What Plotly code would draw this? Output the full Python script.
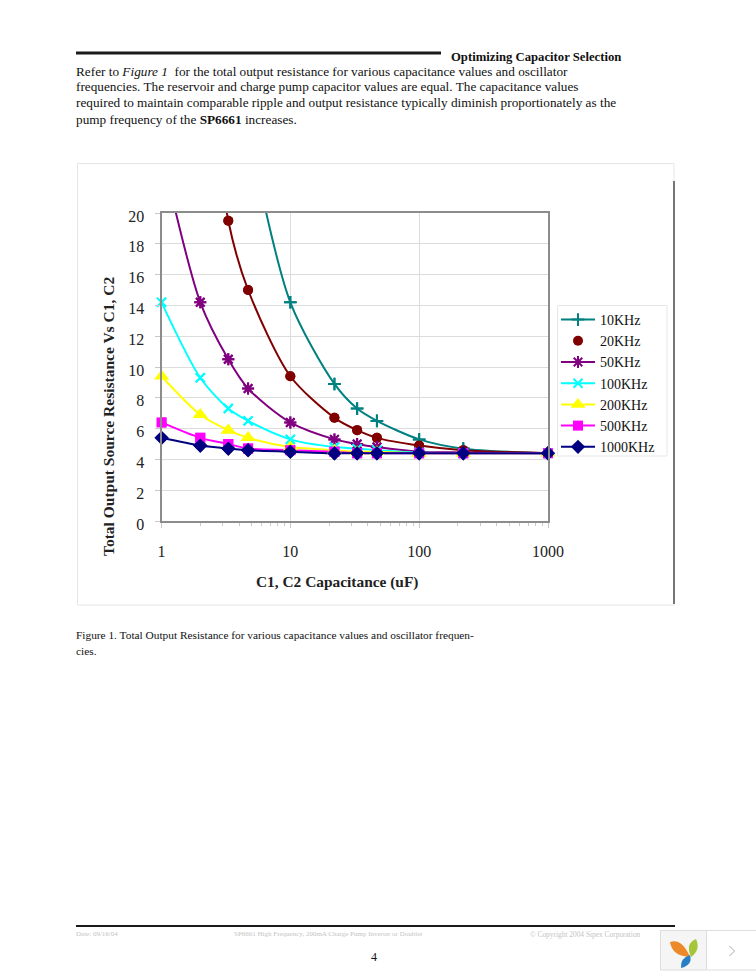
import plotly.graph_objects as go

W, H = 756, 972

capacitance_uF = [1, 2, 3.3, 4.7, 10, 22, 33, 47, 100, 220, 1000]
r_10khz = [None, None, None, 25.5, 14.2, 8.9, 7.3, 6.5, 5.3, 4.7, 4.4]
r_20khz = [None, 34.0, 19.5, 15.0, 9.4, 6.7, 5.9, 5.4, 4.9, 4.6, 4.4]
r_50khz = [24.0, 14.2, 10.5, 8.6, 6.4, 5.3, 5.0, 4.8, 4.5, 4.45, 4.4]
r_100khz = [14.2, 9.3, 7.3, 6.5, 5.3, 4.8, 4.7, 4.6, 4.45, 4.4, 4.4]
r_200khz = [9.4, 6.9, 5.9, 5.4, 4.8, 4.6, 4.5, 4.5, 4.4, 4.4, 4.4]
r_500khz = [6.4, 5.4, 5.0, 4.7, 4.6, 4.5, 4.4, 4.4, 4.4, 4.4, 4.4]
r_1000khz = [5.4, 4.9, 4.7, 4.6, 4.5, 4.4, 4.4, 4.4, 4.4, 4.4, 4.4]

series_names = ["10KHz", "20KHz", "50KHz", "100KHz", "200KHz", "500KHz", "1000KHz"]
series_values = [r_10khz, r_20khz, r_50khz, r_100khz, r_200khz, r_500khz, r_1000khz]
series_colors = ["#008080", "#800000", "#800080", "#00FFFF", "#FFFF00", "#FF00FF", "#000080"]
series_symbols = ["cross-thin", "circle", "asterisk", "x-thin", "triangle-up", "square", "diamond"]
series_sizes = [9, 10, 10, 9, 13, 10, 11]
x_ticks = [1, 10, 100, 1000]
y_ticks = list(range(0, 21, 2))
y_max = 20

body_lines = [
    ("Refer to <i>Figure 1</i>  for the total output resistance for various capacitance values and oscillator", 71),
    ("frequencies. The reservoir and charge pump capacitor values are equal. The capacitance values", 87),
    ("required to maintain comparable ripple and output resistance typically diminish proportionately as the", 103),
    ("pump frequency of the <b>SP6661</b> increases.", 119),
]
caption_lines = [
    ("Figure 1. Total Output Resistance for various capacitance values and oscillator frequen-", 635),
    ("cies.", 651),
]
footer_items = [
    ("Date: 09/16/04", 76, 934, 7),
    ("SP6661 High Frequency, 200mA Charge Pump Inverter or Doubler", 234, 934, 7),
    ("© Copyright 2004 Sipex Corporation", 530, 934, 7.4),
]


def px(x):
    return x / W


def py(y):
    return 1 - y / H


def marker_style(symbol, size, color):
    open_mark = symbol in ("cross-thin", "asterisk", "x-thin")
    return dict(symbol=symbol, size=size, color=color, line=dict(color=color, width=2 if open_mark else 0))


fig = go.Figure()
for name, vals, color, symbol, size in zip(series_names, series_values, series_colors, series_symbols, series_sizes):
    line_style = dict(color=color, width=2, shape="spline", smoothing=0.8)
    if name == "20KHz":
        fig.add_trace(go.Scatter(x=capacitance_uF, y=vals, mode="lines", showlegend=False, legendgroup=name, line=line_style))
        fig.add_trace(go.Scatter(x=capacitance_uF, y=vals, name=name, legendgroup=name, mode="markers",
                                 marker=marker_style(symbol, size, color)))
    else:
        fig.add_trace(go.Scatter(x=capacitance_uF, y=vals, name=name, legendgroup=name, mode="lines+markers",
                                 line=line_style, marker=marker_style(symbol, size, color)))
# markers repeated unclipped, so that those on the axis lines are drawn whole
for name, vals, color, symbol, size in zip(series_names, series_values, series_colors, series_symbols, series_sizes):
    shown = [(c, v) for c, v in zip(capacitance_uF, vals) if v is not None and v <= y_max]
    fig.add_trace(go.Scatter(x=[c for c, _ in shown], y=[v for _, v in shown], mode="markers", showlegend=False,
                             legendgroup=name, cliponaxis=False, marker=marker_style(symbol, size, color)))

shapes = [
    dict(type="rect", xref="paper", yref="paper", x0=px(77.5), x1=px(674), y0=py(605), y1=py(163.5),
         line=dict(color="#e6e6e6", width=1), fillcolor="white", layer="below"),
    dict(type="rect", xref="paper", yref="paper", x0=px(557.5), x1=px(667), y0=py(456), y1=py(305.5),
         line=dict(color="#e6e6e6", width=1), fillcolor="white", layer="below"),
    dict(type="line", xref="paper", yref="paper", x0=px(674), x1=px(674), y0=py(604), y1=py(181),
         line=dict(color="#222222", width=1.2)),
    dict(type="line", xref="paper", yref="paper", x0=px(76), x1=px(441), y0=py(53), y1=py(53),
         line=dict(color="#1a1a1a", width=3)),
    dict(type="line", xref="paper", yref="paper", x0=px(76), x1=px(675), y0=py(926), y1=py(926),
         line=dict(color="#1a1a1a", width=2)),
    dict(type="rect", xref="paper", yref="paper", x0=px(660.5), x1=px(706.5), y0=py(970), y1=py(930.5),
         line=dict(color="#dddddd", width=1), fillcolor="#f5f5f5"),
    dict(type="rect", xref="paper", yref="paper", x0=px(706.5), x1=px(757), y0=py(970), y1=py(930.5),
         line=dict(color="#dddddd", width=1), fillcolor="white"),
    dict(type="path", xref="paper", yref="paper", line=dict(color="#aaaaaa", width=1),
         path=f"M {px(729.5)} {py(946)} L {px(734.5)} {py(951)} L {px(729.5)} {py(956)}"),
    dict(type="path", xref="paper", yref="paper", line=dict(width=0), fillcolor="#ec8a2a",
         path=f"M {px(670)} {py(942)} Q {px(682)} {py(938)} {px(690)} {py(957)} Q {px(672)} {py(956)} {px(670)} {py(942)} Z"),
    dict(type="path", xref="paper", yref="paper", line=dict(width=0), fillcolor="#a5c63b",
         path=f"M {px(696)} {py(939)} Q {px(701)} {py(950)} {px(691)} {py(957)} Q {px(685)} {py(943)} {px(696)} {py(939)} Z"),
    dict(type="path", xref="paper", yref="paper", line=dict(width=0), fillcolor="#2a7fc4",
         path=f"M {px(690)} {py(955)} Q {px(693)} {py(965)} {px(681)} {py(968)} Q {px(680)} {py(958)} {px(690)} {py(955)} Z"),
]

annotations = []


def add_text(text, x, y, size, color="#111111", anchor="left", angle=0):
    annotations.append(dict(text=text, xref="paper", yref="paper", x=px(x), y=py(y), showarrow=False,
                            xanchor=anchor, yanchor="middle", align="left", textangle=angle,
                            xshift=-2 if anchor == "left" else 0,
                            font=dict(family="Liberation Serif", size=size, color=color)))


add_text("<b>Optimizing Capacitor Selection</b>", 451, 57, 12.7)
for text, y in body_lines:
    add_text(text, 76, y, 13.25)
for text, y in caption_lines:
    add_text(text, 76, y, 11.35)
for text, x, y, size in footer_items:
    add_text(text, x, y, size, color="#c4c4c4")
add_text("4", 371, 957, 12)
add_text("<b>C1, C2 Capacitance (uF)</b>", 337, 582, 15.4, color="#222222", anchor="center")
add_text("<b>Total Output Source Resistance Vs C1, C2</b>", 108, 417, 15.5, color="#222222", anchor="center", angle=-90)

tick_font = dict(family="Liberation Serif", size=16, color="#222222")
fig.update_layout(
    width=W, height=H, autosize=False,
    margin=dict(l=0, r=0, t=0, b=0, pad=0, autoexpand=False),
    paper_bgcolor="white", plot_bgcolor="white",
    shapes=shapes, annotations=annotations,
    xaxis=dict(
        type="log", domain=[px(161.5), px(548)], range=[0, 3], tickvals=x_ticks, ticktext=[str(v) for v in x_ticks],
        showgrid=True, gridcolor="#dcdcdc", gridwidth=1, showline=True, linecolor="#8c8c8c", linewidth=2, mirror=True,
        ticks="outside", ticklen=5, tickcolor="#c8c8c8", zeroline=False, ticklabelstandoff=10,
        minor=dict(dtick="D1", ticks="outside", ticklen=3, tickcolor="#c8c8c8", showgrid=False),
        tickfont=tick_font,
    ),
    yaxis=dict(
        domain=[py(521), py(213)], range=[0, y_max], tickvals=y_ticks, showgrid=True, gridcolor="#dcdcdc", gridwidth=1,
        showline=True, linecolor="#8c8c8c", linewidth=2, mirror=True, ticks="outside", ticklen=5, tickcolor="#c8c8c8", zeroline=False,
        ticklabelstandoff=7, ticklabelshift=3,
        tickfont=tick_font,
    ),
    legend=dict(
        x=px(556), y=py(304), xanchor="left", yanchor="top", bgcolor="rgba(0,0,0,0)", borderwidth=0,
        font=dict(family="Liberation Serif", size=14, color="#111111"), tracegroupgap=0, itemwidth=34, traceorder="normal",
    ),
)

fig.write_html("out.html", post_script="document.body.style.margin='0';document.documentElement.style.overflow='hidden';", config={"displayModeBar": False})
